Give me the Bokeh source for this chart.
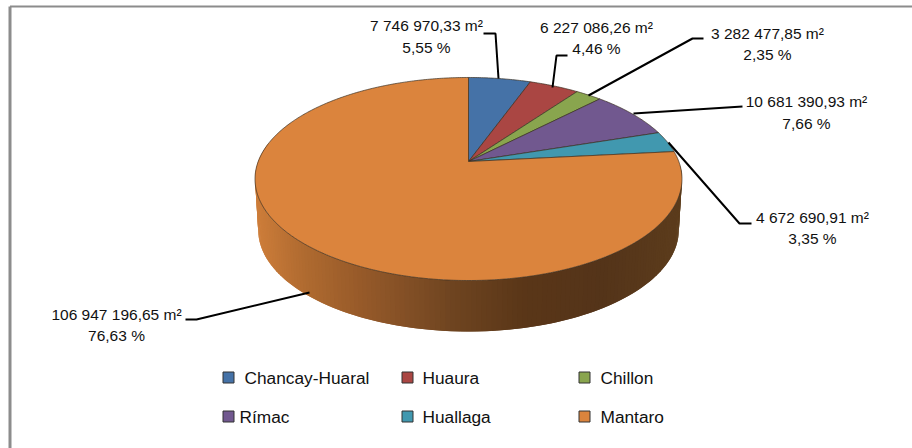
import math
from bokeh.plotting import figure
from bokeh.embed import file_html
from bokeh.resources import INLINE
from bokeh.core.properties import value

# ---------- data ----------
categories = ["Chancay-Huaral", "Huaura", "Chillon", "Rímac", "Huallaga", "Mantaro"]
areas_m2 = [7746970.33, 6227086.26, 3282477.85, 10681390.93, 4672690.91, 106947196.65]
area_labels = ["7 746 970,33 m²", "6 227 086,26 m²", "3 282 477,85 m²",
               "10 681 390,93 m²", "4 672 690,91 m²", "106 947 196,65 m²"]
pct_labels = ["5,55 %", "4,46 %", "2,35 %", "7,66 %", "3,35 %", "76,63 %"]
colors = ["#4572A7", "#AA4643", "#89A54E", "#71588F", "#4198AF", "#DB843D"]

# ---------- layout ----------
W, H = 912, 448
FONT = "Liberation Sans"
CX, CY = 468.0, 161.0      # apex of the slices
A, B, K = 210.3, 98.5, 0.1724   # perspective projection of the disc
DEPTH = 51.0
BOTTOM_X = 0.985

label_x = [426, 596, 767, 806, 812, 116]
label_y = [25, 27, 33, 101, 217, 314]
pct_y = [47, 48, 54, 123, 238, 335]
leader_x = [[483, 495, 498], [567, 556, 552], [703, 692, 588],
            [742, 633], [751, 739, 668], [185, 196, 309]]
leader_y = [[33, 33, 78], [55, 55, 87], [38, 38, 95],
            [106, 113], [223, 223, 142], [319, 319, 292]]

legend_box_x = [228, 407, 584, 228, 407, 584]
legend_box_y = [377, 377, 377, 416, 416, 416]
legend_text_x = [244, 422, 600, 239, 422, 600]


def project(theta, bottom=False):
    u, v = math.sin(theta), math.cos(theta)
    w = 1 + K * v
    x = A * u / w
    y = CY - B * v / w
    if bottom:
        return CX + x * BOTTOM_X, y + DEPTH
    return CX + x, y


SHADE = [(255, (205, 125, 58)), (300, (176, 107, 48)), (350, (154, 92, 42)),
         (400, (132, 80, 38)), (450, (110, 68, 32)), (520, (90, 54, 24)),
         (600, (84, 52, 25)), (682, (92, 60, 28))]


def shade(x):
    for (x0, c0), (x1, c1) in zip(SHADE, SHADE[1:]):
        if x <= x1:
            t = max(0.0, (x - x0) / (x1 - x0))
            return "#%02x%02x%02x" % tuple(round(a + (b - a) * t) for a, b in zip(c0, c1))
    return "#%02x%02x%02x" % SHADE[-1][1]


p = figure(width=W, height=H, x_range=(0, W), y_range=(H, 0), toolbar_location=None,
           output_backend="svg", min_border=0, outline_line_color=None)
p.axis.visible = False
p.grid.visible = False
p.background_fill_color = "white"
p.border_fill_color = "white"

# chart frame (only top and left edges are visible)
p.line([9.5, 9.5], [H, 6], line_color="#8c8c8c", line_width=3)
p.line([9.5, W], [6, 6], line_color="#8c8c8c", line_width=2)

total = sum(areas_m2)
edges = [0.0]
for a in areas_m2:
    edges.append(edges[-1] + a / total * 2 * math.pi)

# side wall of the last slice; each strip overlaps the next so no seams show
start, end = max(edges[5], math.radians(92)), math.radians(281)
steps = 160
sx, sy, sc = [], [], []
for i in range(steps):
    t0 = start + (end - start) * i / steps
    t1 = start + (end - start) * (i + 2) / steps
    t1 = min(t1, end)
    a0, a1 = project(t0), project(t1)
    b0, b1 = project(t0, True), project(t1, True)
    sx.append([a0[0], a1[0], b1[0], b0[0]])
    sy.append([a0[1], a1[1], b1[1], b0[1]])
    sc.append(shade((a0[0] + a1[0]) / 2))
p.patches(sx, sy, fill_color=sc, line_color=None)

# top face
for i, c in enumerate(colors):
    n = max(4, int((edges[i + 1] - edges[i]) / 0.01))
    pts = [project(edges[i] + (edges[i + 1] - edges[i]) * j / n) for j in range(n + 1)]
    xs = [CX] + [q[0] for q in pts]
    ys = [CY] + [q[1] for q in pts]
    p.patch(xs, ys, fill_color=c, line_color="#3b3024", line_width=0.7, line_join="round")

# leaders
for lx, ly in zip(leader_x, leader_y):
    p.line(lx, ly, line_color="black", line_width=2)

# labels
p.text(label_x, label_y, text=area_labels, text_font=value(FONT), text_font_size="15.5px",
       text_align="center", text_baseline="middle", text_color="#111111")
p.text(label_x, pct_y, text=pct_labels, text_font=value(FONT), text_font_size="15.5px",
       text_align="center", text_baseline="middle", text_color="#111111")

# legend
p.scatter(legend_box_x, legend_box_y, marker="square", size=11, fill_color=colors,
          line_color="#333333", line_width=1)
p.text(legend_text_x, legend_box_y, text=categories, text_font=value(FONT),
       text_font_size="17.3px", text_align="left", text_baseline="middle", text_color="#111111")

open("out.html", "w").write(file_html(p, INLINE))
